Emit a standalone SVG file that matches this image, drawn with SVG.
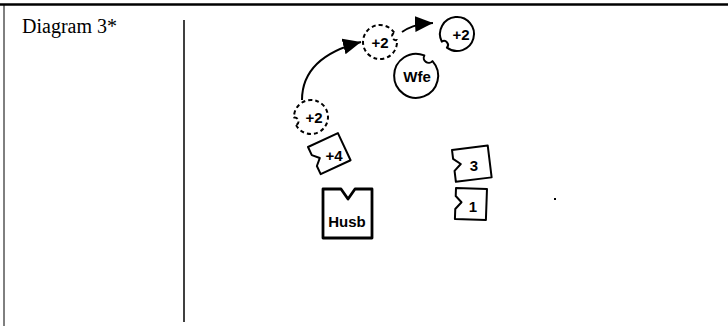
<svg xmlns="http://www.w3.org/2000/svg" width="728" height="330" viewBox="0 0 728 330">
  <style>
    .frame { stroke: #000; fill: none; }
    .piece { fill: #fff; stroke: #000; stroke-width: 2; stroke-linejoin: round; }
    .dashed { stroke-dasharray: 4 3; }
    .heavy { stroke-width: 2.8; }
    .lbl { font-family: "Liberation Sans", Arial, sans-serif; font-size: 15px; font-weight: bold; text-anchor: middle; fill: #000; }
    .title { font-family: "Liberation Serif", "Times New Roman", serif; font-size: 20px; fill: #000; }
    .conn { fill: none; stroke: #000; stroke-width: 2; }
  </style>
  <defs>
    <marker id="head" markerUnits="userSpaceOnUse" markerWidth="19" markerHeight="17" refX="18" refY="8" orient="auto">
      <path d="M0,0 L18,8 L0,16 Z" fill="#000"/>
    </marker>
    <!-- circle token, radius 17, with a small bite on its right side -->
    <path id="disc17" d="M16.53,-3.97 A17,17 0 1 0 16.53,3.97 A4,4 0 0 1 16.53,-3.97 Z"/>
    <!-- larger circle token, radius 22 -->
    <path id="disc22" d="M21.64,-4.97 A22,22 0 1 0 21.64,4.97 A5,5 0 0 1 21.64,-4.97 Z"/>
  </defs>

  <rect width="728" height="330" fill="#fff"/>

  <!-- table frame -->
  <g id="frame">
    <line class="frame" x1="0" y1="4.5" x2="728" y2="4.5" stroke-width="2.6"/>
    <line class="frame" x1="4" y1="5" x2="4" y2="326" stroke-width="1" stroke="#555"/>
    <line class="frame" x1="184" y1="20" x2="184" y2="322" stroke-width="1.5"/>
    <text class="title" x="22" y="33">Diagram 3*</text>
  </g>

  <!-- moves -->
  <g id="connectors">
    <path class="conn" d="M302,100 C302,72 322,52 361,42" marker-end="url(#head)"/>
    <path class="conn" d="M402,32 C408,28 415,24 433,23" marker-end="url(#head)"/>
  </g>

  <g id="token-a">
    <use href="#disc17" class="piece dashed" transform="translate(311,117) rotate(165)"/>
    <text class="lbl" x="314" y="123">+2</text>
  </g>

  <g id="token-b">
    <use href="#disc17" class="piece dashed" transform="translate(380,42) rotate(-20)"/>
    <text class="lbl" x="380" y="48">+2</text>
  </g>

  <g id="token-c">
    <use href="#disc17" class="piece" transform="translate(457,34) rotate(140)"/>
    <text class="lbl" x="461" y="40">+2</text>
  </g>

  <g id="wife">
    <use href="#disc22" class="piece" transform="translate(416,76) rotate(-55)"/>
    <text class="lbl" x="417" y="82">Wfe</text>
  </g>

  <g id="card-plus4">
    <path class="piece" transform="translate(308,147) rotate(-25)" d="M0,0 L33,0 L33,30 L0,30 L0,21 L6,15 L0,9 Z"/>
    <text class="lbl" x="334" y="161">+4</text>
  </g>

  <g id="husband">
    <path class="piece heavy" d="M323,189 L341,189 L348,199 L355,189 L372,189 L372,238 L323,238 Z"/>
    <text class="lbl" x="347" y="227" font-weight="normal">Husb</text>
  </g>

  <g id="card-3">
    <path class="piece" transform="translate(452,150) rotate(-7)" d="M0,0 L36,0 L36,32 L0,32 L0,21 L7,15 L0,9 Z"/>
    <text class="lbl" x="474" y="171" font-size="17">3</text>
  </g>

  <g id="card-1">
    <path class="piece" transform="translate(456,188) rotate(2)" d="M0,0 L31,0 L31,31 L0,31 L0,21 L6,14 L0,8 Z"/>
    <text class="lbl" x="473" y="212" font-size="17">1</text>
  </g>

  <rect x="554" y="198" width="2" height="2" fill="#000"/>
</svg>
